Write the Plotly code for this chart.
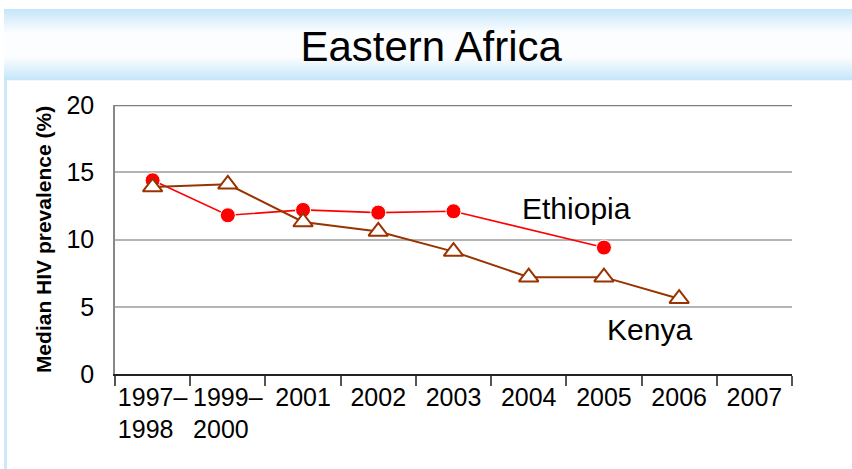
import plotly.graph_objects as go

categories = ["1997–<br>1998\u00a0\u00a0", "1999–<br>2000\u00a0\u00a0", "2001", "2002", "2003", "2004", "2005", "2006", "2007"]
ethiopia = [14.4, 11.8, 12.2, 12.0, 12.1, None, 9.4, None, None]
kenya = [13.9, 14.1, 11.3, 10.6, 9.1, 7.2, 7.2, 5.6, None]

FONT = "Liberation Sans, Arial, sans-serif"
W, H = 852, 469
L, R, T, B = 115, 60, 105, 95
PW, PH = W - L - R, H - T - B

def px2paper_x(px):
    return (px - L) / PW

def px2paper_y(py):
    return (H - B - py) / PH

fig = go.Figure()
fig.add_trace(go.Scatter(
    x=categories, y=ethiopia, mode="lines+markers", connectgaps=True,
    line=dict(color="#ff0000", width=1.6),
    marker=dict(symbol="circle", size=15, color="#ff0000", line=dict(color="white", width=1)),
    showlegend=False, hoverinfo="skip"))
fig.add_trace(go.Scatter(
    x=categories, y=kenya, mode="lines+markers", connectgaps=True,
    line=dict(color="#993300", width=2),
    marker=dict(symbol="triangle-up", size=17, color="white", line=dict(color="#993300", width=2)),
    showlegend=False, hoverinfo="skip"))

shapes = []
# title band gradient
top, bot = 9, 80
c_edge = (196, 230, 249)
c_mid = (252, 253, 255)
for py in range(top, bot):
    t = py + 0.5
    if t < 33:
        f = (t - top) / (33 - top)
    elif t > 57:
        f = (bot - t) / (bot - 57)
    else:
        f = 1.0
    col = tuple(int(round(c_edge[i] + (c_mid[i] - c_edge[i]) * f)) for i in range(3))
    shapes.append(dict(type="rect", xref="paper", yref="paper",
                       x0=px2paper_x(4), x1=px2paper_x(W), y0=px2paper_y(py + 1.2), y1=px2paper_y(py),
                       fillcolor="rgb(%d,%d,%d)" % col, line=dict(width=0), layer="below"))
# left border strip
shapes.append(dict(type="rect", xref="paper", yref="paper",
                   x0=px2paper_x(4), x1=px2paper_x(7), y0=px2paper_y(H), y1=px2paper_y(bot),
                   fillcolor="rgb(205,233,249)", line=dict(width=0), layer="below"))
# top frame line at 20
shapes.append(dict(type="line", xref="paper", yref="y", x0=0, x1=1, y0=20, y1=20,
                   line=dict(color="#808080", width=2.5)))
fig.update_layout(shapes=shapes)

fig.add_annotation(x=5.64, y=12.3, text="Ethiopia", showarrow=False,
                   font=dict(family=FONT, size=30, color="black"), xanchor="center", yanchor="middle")
fig.add_annotation(x=6.61, y=3.3, text="Kenya", showarrow=False,
                   font=dict(family=FONT, size=30, color="black"), xanchor="center", yanchor="middle")

fig.update_layout(
    width=W, height=H,
    margin=dict(l=L, r=R, t=T, b=B, pad=0, autoexpand=False),
    paper_bgcolor="white", plot_bgcolor="white",
    title=dict(text="Eastern Africa", font=dict(family=FONT, size=42, color="black"),
               x=0.506, xref="container", xanchor="center", y=1 - 46 / H, yref="container", yanchor="middle",
               automargin=False),
    font=dict(family=FONT, color="black"),
    xaxis=dict(type="category", categoryorder="array", categoryarray=categories,
               range=[-0.5, 8.5], showline=True, linecolor="#222222", linewidth=1.5,
               ticks="outside", tickson="boundaries", ticklen=10, tickcolor="#555555", tickwidth=1.5,
               tickangle=0, automargin=False,
               showgrid=False, tickfont=dict(family=FONT, size=25, color="black"), fixedrange=True),
    yaxis=dict(range=[0, 20], tickvals=[0, 5, 10, 15, 20], showgrid=True, gridcolor="#b4b4b4", gridwidth=1.5,
               showline=True, linecolor="#888888", linewidth=1.5, zeroline=False,
               ticks="outside", ticklen=14, tickcolor="rgba(0,0,0,0)", automargin=False,
               tickfont=dict(family=FONT, size=25, color="black"),
               title=dict(text="<b>Median HIV prevalence (%)</b>", font=dict(family=FONT, size=21, color="black"), standoff=9),
               fixedrange=True),
)

fig.write_html("out.html", config={"displayModeBar": False}, post_script="document.body.style.margin='0';")
